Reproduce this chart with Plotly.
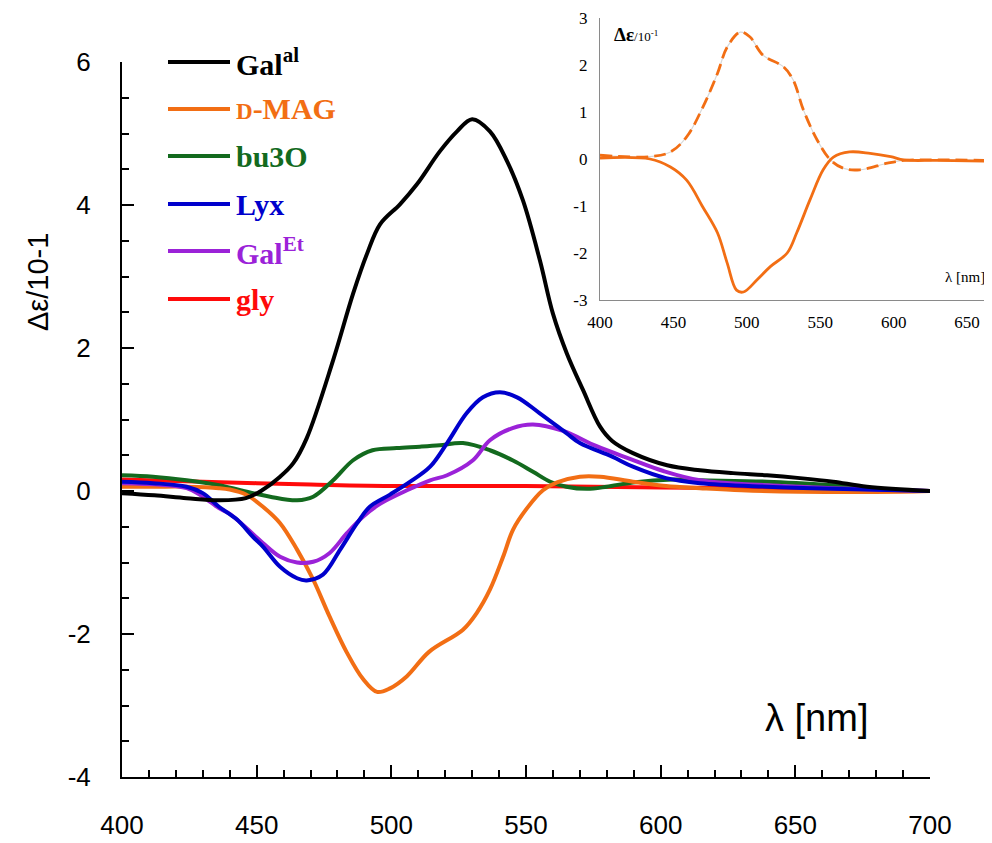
import plotly.graph_objects as go

# ---------------- data ----------------
wl_galal = [400, 412, 424, 436, 446, 452, 458.7, 463.6, 468.6, 478.4, 485.8, 491, 495.8, 503.2,
            509.5, 518, 524.4, 530, 536.6, 543, 548.9, 555.2, 560, 565.2, 571.2, 577.5, 582,
            589.7, 602.4, 614.6, 626.9, 639.5, 651.7, 664, 676.6, 700]
v_galal = [-0.03, -0.06, -0.1, -0.13, -0.1, 0.01, 0.2, 0.39, 0.74, 1.83, 2.76, 3.32, 3.73, 4.01,
           4.29, 4.75, 5.03, 5.2, 5.03, 4.61, 4.06, 3.22, 2.48, 1.92, 1.41, 0.9, 0.7,
           0.53, 0.36, 0.29, 0.25, 0.22, 0.18, 0.13, 0.06, 0.0]

wl_dmag = [400, 412, 424, 436, 440, 446, 452, 458.7, 465, 471, 477, 483.5, 489.5, 494.7, 499.5,
           505.8, 514, 526.6, 531.8, 536.6, 541.5, 545.2, 550.4, 556.3, 561.5, 570, 577.5,
           589.7, 602, 614.6, 630, 651.7, 689, 700]
v_dmag = [0.06, 0.06, 0.06, 0.04, 0.02, -0.05, -0.21, -0.45, -0.82, -1.24, -1.75, -2.26, -2.63,
          -2.81, -2.76, -2.59, -2.25, -1.94, -1.7, -1.38, -0.92, -0.54, -0.24, 0.01, 0.12, 0.2,
          0.2, 0.13, 0.07, 0.04, 0.01, -0.01, -0.01, 0.0]

wl_bu3o = [400, 411.5, 424, 436, 448.6, 455, 465, 471, 478.4, 485.8, 493, 502, 510.6, 518, 526.6,
           536.6, 545, 552.6, 559, 565, 572.7, 580, 589.7, 604.6, 614.6, 639.5, 664, 689, 700]
v_bu3o = [0.22, 0.2, 0.15, 0.08, -0.03, -0.08, -0.13, -0.08, 0.15, 0.43, 0.57, 0.6, 0.62, 0.64,
          0.67, 0.57, 0.43, 0.27, 0.13, 0.06, 0.03, 0.06, 0.12, 0.16, 0.15, 0.13, 0.08, 0.01, 0.0]

wl_lyx = [400, 411.5, 424, 430, 436, 442.7, 448.6, 452.4, 458.7, 465, 468.6, 474.6, 481, 487.3,
          492, 499.5, 507, 514.4, 520.7, 528, 534, 540.3, 546.7, 555, 565, 570, 582, 589.7, 602,
          614.6, 639.5, 664, 700]
v_lyx = [0.13, 0.11, 0.06, -0.03, -0.22, -0.4, -0.64, -0.78, -1.06, -1.22, -1.25, -1.17, -0.82,
         -0.45, -0.22, -0.05, 0.13, 0.34, 0.67, 1.09, 1.31, 1.38, 1.31, 1.09, 0.81, 0.67, 0.48,
         0.34, 0.18, 0.11, 0.06, 0.03, 0.0]

wl_galet = [400, 424, 430, 436, 440, 448.6, 452.4, 458.7, 465, 471, 477, 483.5, 489.5, 495.8,
            505.8, 514.4, 520.7, 530.3, 536.6, 545, 552.6, 563.8, 576, 588.6, 601, 614.6, 639.5,
            664, 700]
v_galet = [0.11, 0.04, -0.08, -0.24, -0.32, -0.6, -0.73, -0.92, -1.0, -0.99, -0.87, -0.59, -0.36,
           -0.18, 0.01, 0.15, 0.22, 0.43, 0.71, 0.88, 0.93, 0.84, 0.63, 0.45, 0.28, 0.15, 0.08,
           0.04, 0.0]

wl_gly = [400, 430, 470, 500, 550, 600, 650, 700]
v_gly = [0.16, 0.13, 0.09, 0.07, 0.07, 0.05, 0.03, 0.0]

# inset
wl_in_solid = [400, 434, 448, 459, 470, 480, 486.6, 493, 497.7, 507, 516, 527.5, 534, 543, 552,
               559, 570, 584, 598, 607, 630, 668]
v_in_solid = [0.02, 0.0, -0.17, -0.45, -1.02, -1.57, -2.21, -2.79, -2.83, -2.57, -2.29, -2.0,
              -1.57, -0.87, -0.23, 0.04, 0.15, 0.12, 0.05, -0.02, -0.03, -0.05]
wl_in_dash = [400, 434, 448, 459, 470, 480, 486.6, 495.5, 502, 511, 525, 531.6, 538.6, 548, 557,
              566, 577, 595.7, 607, 630, 668]
v_in_dash = [0.08, 0.05, 0.15, 0.47, 1.1, 1.82, 2.38, 2.7, 2.6, 2.21, 1.96, 1.68, 1.04, 0.4,
             -0.02, -0.2, -0.23, -0.09, -0.03, -0.02, -0.03]

x_ticks = [400, 450, 500, 550, 600, 650, 700]
y_ticks = [-4, -2, 0, 2, 4, 6]
in_x_ticks = [400, 450, 500, 550, 600, 650]
in_y_ticks = [-3, -2, -1, 0, 1, 2, 3]

series = [
    ("Gal<sup>al</sup>", wl_galal, v_galal, "#000000"),
    ("<span style='font-size:23px'>D</span>-MAG", wl_dmag, v_dmag, "#F26E14"),
    ("bu3O", wl_bu3o, v_bu3o, "#136A1E"),
    ("Lyx", wl_lyx, v_lyx, "#0000CC"),
    ("Gal<sup>Et</sup>", wl_galet, v_galet, "#9B22D8"),
    ("gly", wl_gly, v_gly, "#FF0A0A"),
]

# page body has an 8px margin: size the figure to fit and map reference pixels accordingly
OFF = 8
W, H = 992 - OFF, 843 - OFF
def px(x):
    return (x - OFF) / W
def py(y):
    return 1 - (y - OFF) / H

fig = go.Figure()
draw_order = [5, 2, 1, 4, 3, 0]
for i in draw_order:
    name, xs, ys, col = series[i]
    fig.add_trace(go.Scatter(x=xs, y=ys, mode="lines",
                             line=dict(color=col, width=4, shape="spline", smoothing=1.0),
                             showlegend=False, xaxis="x", yaxis="y"))

# inset traces
fig.add_trace(go.Scatter(x=wl_in_dash, y=v_in_dash, mode="lines",
                         line=dict(color="#D8D8D8", width=1.2, shape="spline", smoothing=1.0),
                         showlegend=False, xaxis="x2", yaxis="y2"))
fig.add_trace(go.Scatter(x=wl_in_dash, y=v_in_dash, mode="lines",
                         line=dict(color="#F26E14", width=2.8, dash="12px,6px", shape="spline", smoothing=1.0),
                         showlegend=False, xaxis="x2", yaxis="y2"))
fig.add_trace(go.Scatter(x=wl_in_solid, y=v_in_solid, mode="lines",
                         line=dict(color="#F26E14", width=2.8, shape="spline", smoothing=1.0),
                         showlegend=False, xaxis="x2", yaxis="y2"))

tickfont = dict(family="Arial, Liberation Sans, sans-serif", size=26, color="black")
serif = "Times New Roman, Liberation Serif, serif"

fig.update_layout(
    width=W, height=H,
    margin=dict(l=0, r=0, t=0, b=0, autoexpand=False),
    paper_bgcolor="white", plot_bgcolor="rgba(0,0,0,0)",
    xaxis=dict(domain=[px(122), px(930)], range=[400, 700], anchor="y", automargin=False,
               tickvals=x_ticks, ticktext=[str(v) for v in x_ticks],
               ticks="inside", ticklen=12, tickwidth=2, tickcolor="black",
               minor=dict(dtick=10, ticks="inside", ticklen=7, tickwidth=2, tickcolor="black"),
               showline=True, linecolor="black", linewidth=2, showgrid=False, zeroline=False,
               tickfont=tickfont, ticklabelstandoff=24),
    yaxis=dict(domain=[py(777), py(62)], range=[-4, 6], anchor="x", automargin=False,
               tickvals=y_ticks, ticktext=[str(v) for v in y_ticks],
               ticks="inside", ticklen=12, tickwidth=2, tickcolor="black",
               minor=dict(dtick=0.5, ticks="inside", ticklen=7, tickwidth=2, tickcolor="black"),
               showline=True, linecolor="black", linewidth=2, showgrid=False, zeroline=False,
               tickfont=tickfont, ticklabelstandoff=24),
    xaxis2=dict(domain=[px(600), 1.0], range=[400, 667], anchor="y2", automargin=False,
                tickvals=in_x_ticks, ticktext=[str(v) for v in in_x_ticks], ticks="",
                showline=True, linecolor="#8A8A8A", linewidth=1.2, showgrid=False, zeroline=False,
                tickfont=dict(family=serif, size=17, color="black"), ticklabelstandoff=6),
    yaxis2=dict(domain=[py(300), py(18)], range=[-3, 3], anchor="x2", automargin=False,
                tickvals=in_y_ticks, ticktext=[str(v) for v in in_y_ticks], ticks="",
                showline=True, linecolor="#8A8A8A", linewidth=1.2, showgrid=False, zeroline=False,
                tickfont=dict(family=serif, size=17, color="black"), ticklabelstandoff=8),
)

# legend (drawn as lines + text)
leg_y = [62, 109, 156, 204, 251, 299]
shapes = []
annotations = []
for (name, xs, ys, col), yy in zip(series, leg_y):
    shapes.append(dict(type="line", xref="paper", yref="paper", x0=px(168), x1=px(230),
                       y0=py(yy), y1=py(yy), line=dict(color=col, width=4)))
    annotations.append(dict(xref="paper", yref="paper", x=px(234), y=py(yy), xanchor="left",
                            yanchor="middle", showarrow=False, text="<b>" + name + "</b>",
                            font=dict(family=serif, size=30, color=col)))

annotations.append(dict(xref="paper", yref="paper", x=px(38), y=py(282), xanchor="center",
                        yanchor="middle", showarrow=False, text="Δε/10-1", textangle=-90,
                        font=dict(family="Arial, Liberation Sans, sans-serif", size=29, color="black")))
annotations.append(dict(xref="paper", yref="paper", x=px(816), y=py(718), xanchor="center",
                        yanchor="middle", showarrow=False, text="λ [nm]",
                        font=dict(family="Arial, Liberation Sans, sans-serif", size=38, color="black")))
annotations.append(dict(xref="paper", yref="paper", x=px(612), y=py(34), xanchor="left",
                        yanchor="middle", showarrow=False,
                        text="<b>Δε</b><span style='font-size:13px'>/10<sup>-1</sup></span>",
                        font=dict(family=serif, size=19, color="black")))
annotations.append(dict(xref="paper", yref="paper", x=px(965), y=py(277), xanchor="center",
                        yanchor="middle", showarrow=False, text="λ [nm]",
                        font=dict(family=serif, size=15, color="black")))

fig.update_layout(shapes=shapes, annotations=annotations)
fig.write_html("out.html")
